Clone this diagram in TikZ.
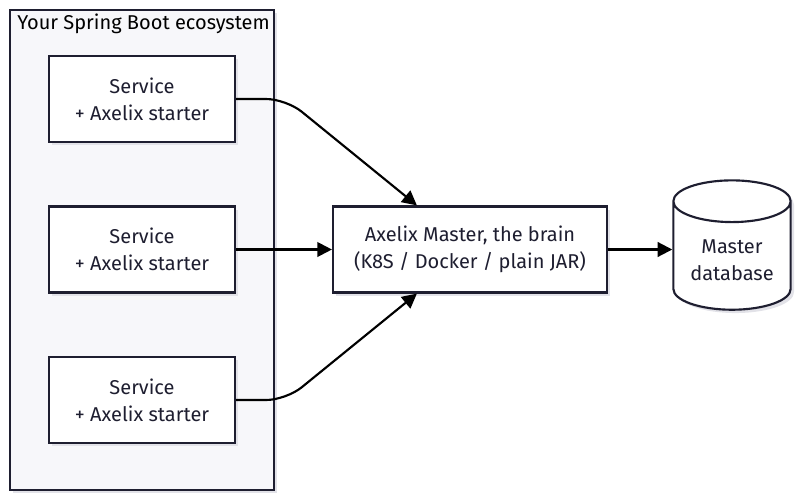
\documentclass[tikz,border=0pt]{standalone}
\usepackage{fontspec}
\setmainfont{Fira Sans}
\usetikzlibrary{shapes.geometric, arrows.meta, positioning, calc, shadows}
\definecolor{cInk}{RGB}{30,30,48}
\definecolor{cPane}{RGB}{247,247,250}
\definecolor{cShade}{RGB}{226,226,232}
\tikzset{
	pane/.style     ={rectangle, draw=cInk, line width=1.6pt, fill=cPane, minimum width=198pt, minimum height=360pt, inner sep=0pt, drop shadow={shadow xshift=2.5pt, shadow yshift=-2.5pt, fill=cShade, opacity=1}},
	svcbox/.style   ={rectangle, draw=cInk, line width=1.6pt, fill=white, minimum width=139.5pt, minimum height=64.5pt, inner sep=0pt, align=center, text=cInk, font=\fontsize{15}{20}\selectfont, drop shadow={shadow xshift=2.5pt, shadow yshift=-2.5pt, fill=cShade, opacity=1}},
	brainbox/.style ={svcbox, minimum width=205.5pt},
	store/.style    ={cylinder, shape border rotate=90, aspect=0.5, draw=cInk, line width=1.6pt, fill=white, minimum width=88pt, minimum height=97pt, inner sep=0pt, align=center, text=cInk, font=\fontsize{15}{20}\selectfont, text height=37pt, drop shadow={shadow xshift=2.5pt, shadow yshift=-2.5pt, fill=cShade, opacity=1}},
	flowarrow/.style={-{Triangle[length=11pt, width=11pt]}, line width=1.6pt, draw=black},
}
\begin{document}
\begin{tikzpicture}[x=0.75pt, y=-0.75pt]
	\useasboundingbox (0,0) rectangle (799,500);
	\node[pane] (eco) at (142,250) {};
	\node[anchor=west, inner sep=0pt, text=black, font=\fontsize{15}{18}\selectfont] (ecolbl) at (17,24) {Your Spring Boot ecosystem};
	\foreach \i/\y in {1/99, 2/249.5, 3/400} {
		\node[svcbox] (s\i) at (142,\y) {Service\\+ Axelix starter};
	}
	\node[brainbox] (master) at (470,249.5) {Axelix Master, the brain\\(K8S / Docker / plain JAR)};
	\node[store] (db) at (732,256) {Master\\database};
	% connectors
	\draw[flowarrow, rounded corners=15pt] (s1.east) -- ++(50,0) -- ([xshift=63.75pt]master.north west);
	\draw[flowarrow] (s2.east) -- (master.west);
	\draw[flowarrow, rounded corners=15pt] (s3.east) -- ++(50,0) -- ([xshift=63.75pt]master.south west);
	\draw[flowarrow] (master.east) -- (master.east -| db.west);
\end{tikzpicture}
\end{document}
